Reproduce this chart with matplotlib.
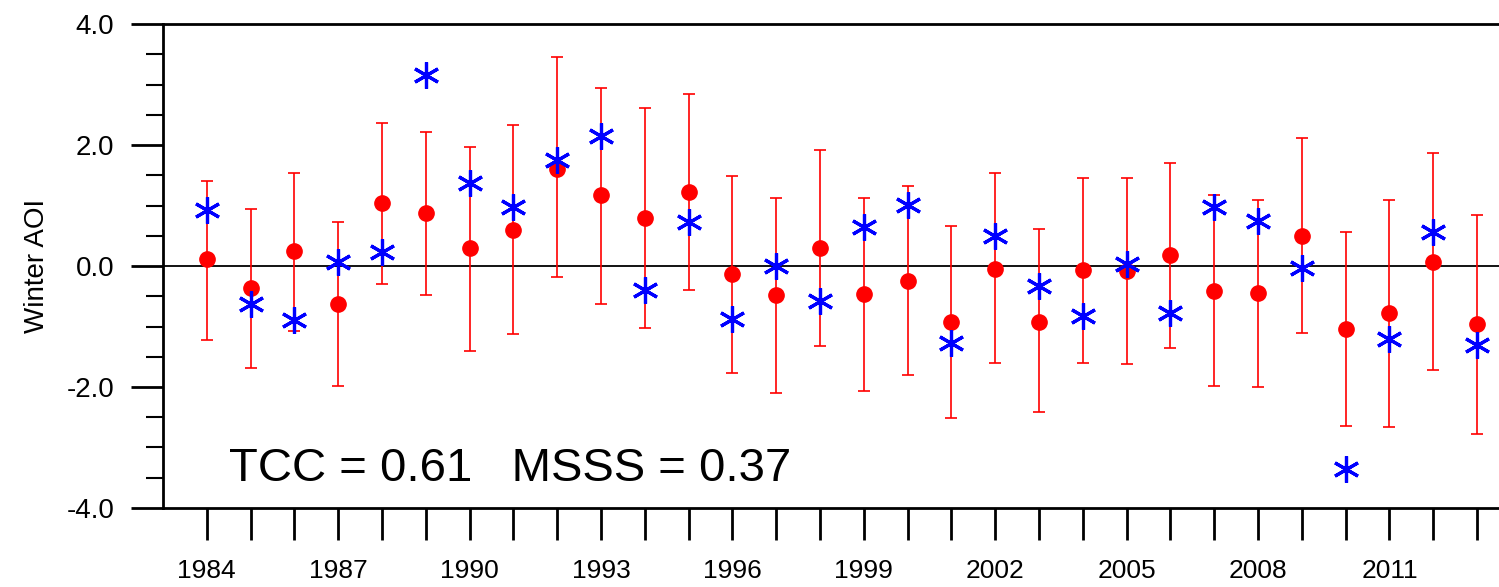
import numpy as np
import matplotlib
matplotlib.use("Agg")
import matplotlib.pyplot as plt
from matplotlib.ticker import MultipleLocator, FormatStrFormatter

plt.rcParams['font.family'] = ['Liberation Sans', 'DejaVu Sans']

years = np.arange(1984, 2014)

# ensemble mean (red dots) and spread (red bars)
model_mean = [0.11, -0.37, 0.25, -0.63, 1.05, 0.87, 0.29, 0.60, 1.61, 1.17,
              0.79, 1.23, -0.14, -0.48, 0.29, -0.46, -0.25, -0.93, -0.05, -0.92,
              -0.07, -0.08, 0.18, -0.41, -0.45, 0.50, -1.04, -0.78, 0.07, -0.96]
model_max = [1.40, 0.94, 1.54, 0.72, 2.36, 2.22, 1.97, 2.33, 3.45, 2.95,
             2.62, 2.84, 1.49, 1.13, 1.91, 1.12, 1.32, 0.66, 1.54, 0.61,
             1.45, 1.45, 1.71, 1.17, 1.09, 2.11, 0.57, 1.09, 1.87, 0.84]
model_min = [-1.22, -1.69, -1.08, -1.99, -0.29, -0.48, -1.41, -1.13, -0.18, -0.63,
             -1.02, -0.40, -1.77, -2.10, -1.32, -2.06, -1.80, -2.52, -1.61, -2.41,
             -1.60, -1.62, -1.36, -1.98, -2.00, -1.10, -2.64, -2.66, -1.72, -2.78]
# observed (blue asterisks)
observed = [0.93, -0.63, -0.90, 0.07, 0.24, 3.16, 1.38, 0.97, 1.76, 2.15,
            -0.40, 0.72, -0.87, 0.00, -0.57, 0.64, 1.01, -1.28, 0.50, -0.33,
            -0.83, 0.04, -0.78, 0.97, 0.75, -0.04, -3.36, -1.21, 0.57, -1.31]

fig = plt.figure(figsize=(14.99, 5.87), dpi=100)
ax = fig.add_axes([0.1087, 0.1346, 0.8913, 0.8244])

ax.axhline(0, color='black', lw=1.3, zorder=1)

mean = np.array(model_mean)
yerr = [mean - np.array(model_min), np.array(model_max) - mean]
ax.errorbar(years, mean, yerr=yerr, fmt='o', color='red', ecolor='red',
            elinewidth=1.2, capsize=4, capthick=1.2, markersize=11, zorder=2)
ax.plot(years, observed, linestyle='none', marker=(6, 2, 0), markersize=19,
        markeredgewidth=2.3, color='blue', zorder=3)

ax.set_xlim(1983, 2013.5)
ax.set_ylim(-4, 4)
ax.yaxis.set_major_locator(MultipleLocator(2))
ax.yaxis.set_minor_locator(MultipleLocator(0.5))
ax.yaxis.set_major_formatter(FormatStrFormatter('%.1f'))
ax.set_xticks(years)
ax.set_xticklabels([str(y) if (y - 1984) % 3 == 0 else '' for y in years])

ax.tick_params(axis='y', which='major', direction='out', length=23, width=2,
               labelsize=20, pad=12)
ax.tick_params(axis='y', which='minor', direction='out', length=12, width=1.5)
ax.tick_params(axis='x', which='major', direction='out', length=23, width=2,
               labelsize=19, pad=14)

for side in ['left', 'bottom', 'top']:
    ax.spines[side].set_linewidth(2)
ax.spines['right'].set_visible(False)

ax.set_ylabel('Winter AOI', fontsize=20, labelpad=12)

ax.text(1984.5, -3.55, 'TCC = 0.61   MSSS = 0.37', fontsize=34, ha='left',
        va='baseline')

fig.savefig('out.png', dpi=100)
